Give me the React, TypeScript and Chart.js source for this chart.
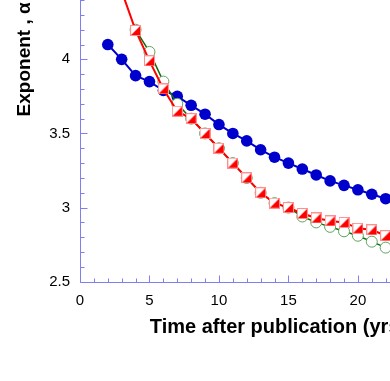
import React, { useEffect, useRef } from "react";
import { Chart, registerables } from "chart.js";
Chart.register(...registerables);

const blueYears = [2, 3, 4, 5, 6, 7, 8, 9, 10, 11, 12, 13, 14, 15, 16, 17, 18, 19, 20, 21, 22, 23];
const blueValues = [4.10, 4.00, 3.89, 3.85, 3.79, 3.75, 3.69, 3.63, 3.56, 3.50, 3.45, 3.39, 3.34, 3.30, 3.26, 3.22, 3.18, 3.15, 3.12, 3.09, 3.06, 3.04];

const redYears = [3, 4, 5, 6, 7, 8, 9, 10, 11, 12, 13, 14, 15, 16, 17, 18, 19, 20, 21, 22, 23];
const redValues = [4.46, 4.195, 3.99, 3.80, 3.65, 3.60, 3.50, 3.40, 3.30, 3.20, 3.10, 3.03, 3.00, 2.96, 2.93, 2.91, 2.90, 2.86, 2.85, 2.81, 2.79];

const greenYears = [4, 5, 6, 7, 8, 9, 10, 11, 12, 13, 14, 15, 16, 17, 18, 19, 20, 21, 22, 23];
const greenValues = [4.20, 4.05, 3.85, 3.70, 3.60, 3.50, 3.40, 3.30, 3.20, 3.10, 3.03, 3.00, 2.94, 2.90, 2.87, 2.84, 2.81, 2.77, 2.73, 2.71];

const xMin = 0;
const xMax = 28.5;
const xMajorStep = 5;
const xMinorStep = 1;
const yMin = 2.5;
const yMax = 5.5;
const yMajorStep = 0.5;
const yMinorStep = 0.1;

const xTitle = "Time after publication (yrs)";
const yTitle = "Exponent , \u03b1";

const AXIS_COLOR = "#7f7ff0";
const FONT = "'Liberation Sans', Arial, sans-serif";

function makeRedMarker(): HTMLCanvasElement {
  const s = 11;
  const c = document.createElement("canvas");
  c.width = s;
  c.height = s;
  const g = c.getContext("2d")!;
  g.fillStyle = "#ffffff";
  g.fillRect(0, 0, s, s);
  g.fillStyle = "#ff0000";
  g.beginPath();
  g.moveTo(s, 0);
  g.lineTo(s, s);
  g.lineTo(0, s);
  g.closePath();
  g.fill();
  g.strokeStyle = "#ff9090";
  g.lineWidth = 1;
  g.strokeRect(0.5, 0.5, s - 1, s - 1);
  return c;
}

const inwardAxes = {
  id: "inwardAxes",
  afterDatasetsDraw(chart: any) {
    const { ctx, chartArea, scales } = chart;
    const xs = scales.x;
    const ys = scales.y;
    ctx.save();
    ctx.strokeStyle = AXIS_COLOR;
    ctx.lineWidth = 1;
    const L = Math.round(chartArea.left) + 0.5;
    const B = Math.round(chartArea.bottom) + 0.5;
    ctx.beginPath();
    ctx.moveTo(L, chartArea.top);
    ctx.lineTo(L, B);
    ctx.lineTo(chartArea.right, B);
    ctx.stroke();
    ctx.beginPath();
    const nx = Math.round((xMax - xMin) / xMinorStep);
    for (let i = 0; i <= nx; i++) {
      const v = xMin + i * xMinorStep;
      const major = Math.abs(v / xMajorStep - Math.round(v / xMajorStep)) < 1e-6;
      const px = Math.round(xs.getPixelForValue(v)) + 0.5;
      ctx.moveTo(px, B);
      ctx.lineTo(px, B - (major ? 7 : 4));
    }
    const ny = Math.round((yMax - yMin) / yMinorStep);
    for (let i = 0; i <= ny; i++) {
      const v = yMin + i * yMinorStep;
      const major = Math.abs(v / yMajorStep - Math.round(v / yMajorStep)) < 1e-6;
      const py = Math.round(ys.getPixelForValue(v)) + 0.5;
      ctx.moveTo(L, py);
      ctx.lineTo(L + (major ? 7 : 4), py);
    }
    ctx.stroke();
    ctx.restore();
  },
};

export default function App() {
  const ref = useRef<HTMLCanvasElement>(null);
  useEffect(() => {
    const canvas = ref.current!;
    const redMarker = makeRedMarker();
    const chart = new Chart(canvas, {
      type: "line",
      data: {
        datasets: [
          {
            label: "red",
            order: 0,
            data: redYears.map((x, i) => ({ x, y: redValues[i] })),
            borderColor: "#ff0000",
            borderWidth: 2,
            pointStyle: redMarker as any,
            pointRadius: 5.5,
            backgroundColor: "#ff0000",
            tension: 0,
          },
          {
            label: "green",
            order: 1,
            data: greenYears.map((x, i) => ({ x, y: greenValues[i] })),
            borderColor: "#0b6e0b",
            borderWidth: 1.5,
            pointRadius: 5.5,
            pointBackgroundColor: "#ffffff",
            pointBorderColor: "#5fa35f",
            pointBorderWidth: 1,
            tension: 0,
          },
          {
            label: "blue",
            order: 2,
            data: blueYears.map((x, i) => ({ x, y: blueValues[i] })),
            borderColor: "#0000cc",
            borderWidth: 2,
            pointRadius: 5.8,
            pointBackgroundColor: "#0000cc",
            pointBorderColor: "#0000cc",
            pointBorderWidth: 0,
            tension: 0,
          },
        ],
      },
      options: {
        animation: false,
        responsive: false,
        events: [],
        layout: { padding: { top: 37, right: 44, bottom: 0, left: 0 } },
        plugins: { legend: { display: false }, tooltip: { enabled: false } },
        scales: {
          x: {
            type: "linear",
            min: xMin,
            max: xMax,
            grid: { display: false, drawTicks: false },
            border: { display: false },
            ticks: {
              stepSize: xMajorStep,
              padding: 10,
              color: "#000",
              font: { family: FONT, size: 15 },
              maxRotation: 0,
              callback: (v: any) => String(Number(v)),
            },
            afterBuildTicks: (s: any) => {
              s.ticks = s.ticks.filter((t: any) => Math.abs(t.value / xMajorStep - Math.round(t.value / xMajorStep)) < 1e-6);
            },
            afterFit: (s: any) => {
              s.height = 78.3;
            },
            title: {
              display: true,
              text: xTitle,
              color: "#000",
              font: { family: FONT, size: 20, weight: "bold" },
              padding: { top: 0, bottom: 21 },
            },
          },
          y: {
            type: "linear",
            min: yMin,
            max: yMax,
            grid: { display: false, drawTicks: false },
            border: { display: false },
            ticks: {
              stepSize: yMajorStep,
              padding: 10,
              color: "#000",
              font: { family: FONT, size: 15 },
              callback: (v: any) => String(Math.round(Number(v) * 10) / 10),
            },
            afterFit: (s: any) => {
              s.width = 80;
            },
            title: {
              display: true,
              text: yTitle,
              color: "#000",
              font: { family: FONT, size: 19, weight: "bold" },
              padding: { top: 13, bottom: 0 },
            },
          },
        },
      },
      plugins: [inwardAxes],
    } as any);
    return () => chart.destroy();
  }, []);
  return (
    <div style={{ position: "absolute", left: 0, top: -200, width: 520, height: 560 }}>
      <canvas ref={ref} width={520} height={560} style={{ width: 520, height: 560, display: "block" }} />
    </div>
  );
}
